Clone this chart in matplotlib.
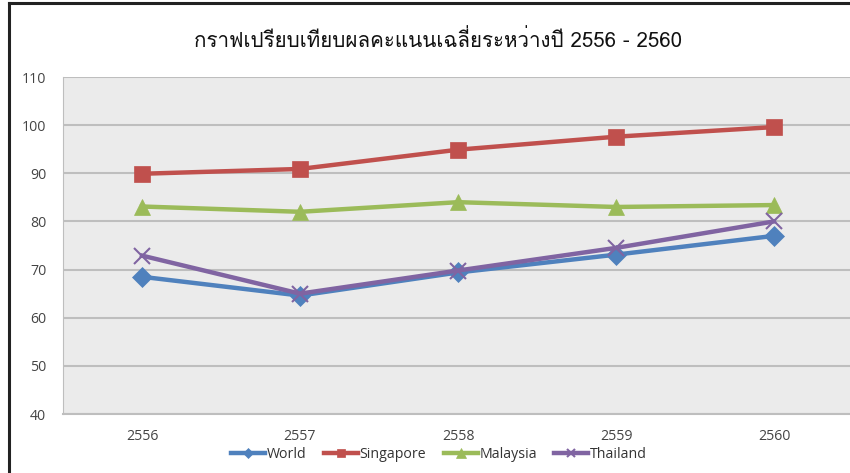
import matplotlib
matplotlib.use("Agg")
import matplotlib.pyplot as plt
from matplotlib import font_manager
from matplotlib.ft2font import FT2Font
from matplotlib.lines import Line2D

# data
years = ["2556", "2557", "2558", "2559", "2560"]
world = [68.5, 64.6, 69.4, 73.1, 77.0]
singapore = [89.9, 90.9, 94.9, 97.6, 99.6]
malaysia = [83.1, 82.0, 84.0, 83.0, 83.4]
thailand = [72.9, 65.0, 69.8, 74.5, 80.0]
series_names = ["World", "Singapore", "Malaysia", "Thailand"]
title_text = "กราฟเปรียบเทียบผลคะแนนเฉลี่ยระหว่างปี 2556 - 2560"
yticks = [40, 50, 60, 70, 80, 90, 100, 110]


def find_thai_font():
    # look for any installed font that has Thai glyphs
    for f in font_manager.fontManager.ttflist:
        try:
            cmap = FT2Font(f.fname).get_charmap()
        except Exception:
            continue
        if 0x0E01 in cmap and 0x0E40 in cmap:
            return f.name
    return None


thai = find_thai_font()
title_family = [thai, "DejaVu Sans"] if thai else ["DejaVu Sans"]
plt.rcParams["font.family"] = ["Open Sans", "DejaVu Sans"]

W, H = 850, 473
fig = plt.figure(figsize=(W / 100, H / 100), dpi=100)
fig.patch.set_facecolor("white")

# frame lines of the original screenshot
fig.add_artist(Line2D([9 / W, 9 / W], [0, 1 - 3 / H], color="#222222", lw=2.2))
fig.add_artist(Line2D([9 / W, 1], [1 - 3 / H, 1 - 3 / H], color="#222222", lw=2.2))

ax = fig.add_axes([63 / W, 59 / H, 790 / W, 337 / H])
ax.set_facecolor("#EBEBEB")
x = range(len(years))

styles = [
    (world, "#4F81BD", "D", 10),
    (singapore, "#C0504D", "s", 11),
    (malaysia, "#9BBB59", "^", 12),
    (thailand, "#8064A2", "x", 11),
]
for (vals, col, mk, ms), name in zip(styles, series_names):
    ax.plot(x, vals, color=col, lw=3.2, marker=mk, markersize=ms,
            markeredgewidth=1.5 if mk == "x" else 0.5, markeredgecolor=col,
            label=name, zorder=3)

ax.set_xlim(-0.5, 4.5)
ax.set_ylim(40, 110)
ax.set_yticks(yticks)
ax.set_xticks(list(x))
ax.set_xticklabels(years)
ax.yaxis.grid(True, color="#BEBEBE", lw=1.5)
ax.set_axisbelow(True)
ax.tick_params(length=0, labelsize=10.2, labelcolor="#444444")
ax.tick_params(axis="x", pad=11)
ax.tick_params(axis="y", pad=12)
for s in ["top", "right"]:
    ax.spines[s].set_visible(False)
ax.spines["left"].set_color("#BEBEBE")
ax.spines["bottom"].set_color("#BEBEBE")
ax.spines["bottom"].set_linewidth(1.5)

fig.text(438 / W, 1 - 40 / H, title_text, ha="center", va="center",
         fontsize=14.8, family=title_family, color="#111111")

fig.legend(loc="center", bbox_to_anchor=(439 / W, 1 - 454 / H), ncol=4,
           frameon=False, fontsize=10.2, handlelength=2.4, handletextpad=0.1,
           columnspacing=1.25, markerscale=0.55, labelcolor="#333333",
           borderpad=0.1)

fig.savefig("out.png", dpi=100)
